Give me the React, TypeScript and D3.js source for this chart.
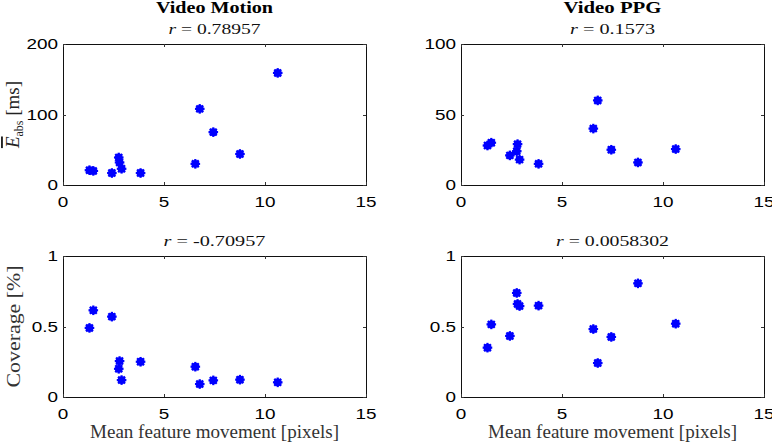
import React from "react";
import * as d3 from "d3";

const movement = [1.31, 1.5, 2.42, 2.76, 2.8, 2.9, 3.84, 6.55, 6.77, 7.44, 8.76, 10.63];
const errMotion = [21, 20, 17, 39, 32, 23, 17, 30, 108, 75, 44, 159];
const errPPG = [28, 30, 21, 24, 29, 18, 15, 40, 60, 25, 16, 25.5];
const covMotion = [0.49, 0.615, 0.57, 0.2, 0.255, 0.12, 0.25, 0.215, 0.092, 0.118, 0.123, 0.104];
const covPPG = [0.35, 0.515, 0.433, 0.738, 0.66, 0.645, 0.648, 0.482, 0.241, 0.426, 0.806, 0.52];

const xTicks = [0, 5, 10, 15];
const yTicksErrMotion = [0, 100, 200];
const yTicksErrPPG = [0, 50, 100];
const yTicksCov = [0, 0.5, 1];
const columnTitles = ["Video Motion", "Video PPG"];
const rLabels = ["0.78957", "0.1573", "-0.70957", "0.0058302"];
const xLabel = "Mean feature movement [pixels]";

const BLUE = "#0000ff";

type Panel = {
  left: number;
  top: number;
  ys: number[];
  yMax: number;
  yTicks: number[];
  r: string;
  rWidth: number;
};

const W = 303;
const H = 141;

const panels: Panel[] = [
  { left: 63, top: 44, ys: errMotion, yMax: 200, yTicks: yTicksErrMotion, r: rLabels[0], rWidth: 92 },
  { left: 461, top: 44, ys: errPPG, yMax: 100, yTicks: yTicksErrPPG, r: rLabels[1], rWidth: 85 },
  { left: 63, top: 256, ys: covMotion, yMax: 1, yTicks: yTicksCov, r: rLabels[2], rWidth: 102 },
  { left: 461, top: 256, ys: covPPG, yMax: 1, yTicks: yTicksCov, r: rLabels[3], rWidth: 113 },
];

function Marker({ cx, cy }: { cx: number; cy: number }) {
  const a = 4.8;
  const d = a * 0.72;
  return (
    <g>
      <circle cx={cx} cy={cy} r={3.9} fill={BLUE} />
      <g stroke={BLUE} strokeWidth={2.2} strokeLinecap="butt">
        <line x1={cx - a} y1={cy} x2={cx + a} y2={cy} />
        <line x1={cx} y1={cy - a} x2={cx} y2={cy + a} />
        <line x1={cx - d} y1={cy - d} x2={cx + d} y2={cy + d} />
        <line x1={cx - d} y1={cy + d} x2={cx + d} y2={cy - d} />
      </g>
    </g>
  );
}

function PanelView({ p }: { p: Panel }) {
  const x = d3.scaleLinear().domain([0, 15]).range([p.left, p.left + W]);
  const y = d3.scaleLinear().domain([0, p.yMax]).range([p.top + H, p.top]);
  const cx = p.left + W / 2;
  return (
    <g>
      <rect x={p.left + 0.5} y={p.top + 0.5} width={W} height={H} fill="white" stroke="#111" strokeWidth={1} />
      {xTicks.map((t) => (
        <g key={"xt" + t}>
          <line x1={Math.round(x(t)) + 0.5} x2={Math.round(x(t)) + 0.5} y1={p.top + H} y2={p.top + H - 3} stroke="#333" />
          <line x1={Math.round(x(t)) + 0.5} x2={Math.round(x(t)) + 0.5} y1={p.top} y2={p.top + 3} stroke="#333" />
          <text
            transform={`translate(${x(t)},${p.top + H + 22}) scale(1.35,1)`}
            textAnchor="middle"
            fontFamily="Liberation Sans, Arial, sans-serif"
            fontSize={14}
            fill="#000"
          >
            {t}
          </text>
        </g>
      ))}
      {p.yTicks.map((t) => (
        <g key={"yt" + t}>
          <line x1={p.left} x2={p.left + 3} y1={Math.round(y(t)) + 0.5} y2={Math.round(y(t)) + 0.5} stroke="#333" />
          <line x1={p.left + W} x2={p.left + W - 3} y1={Math.round(y(t)) + 0.5} y2={Math.round(y(t)) + 0.5} stroke="#333" />
          <text
            transform={`translate(${p.left - 5},${y(t) + 5}) scale(1.35,1)`}
            textAnchor="end"
            fontFamily="Liberation Sans, Arial, sans-serif"
            fontSize={14}
            fill="#000"
          >
            {String(t)}
          </text>
        </g>
      ))}
      {movement.map((m, i) => (
        <Marker key={i} cx={x(m)} cy={y(p.ys[i])} />
      ))}
      <text
        x={cx}
        y={p.top - 10}
        textAnchor="middle"
        fontFamily="Liberation Serif, Times New Roman, serif"
        fontSize={15}
        fill="#111"
        textLength={p.rWidth}
        lengthAdjust="spacingAndGlyphs"
      >
        <tspan fontStyle="italic">r</tspan> = {p.r}
      </text>
    </g>
  );
}

export default function App() {
  return (
    <svg
      width={772}
      height={445}
      style={{ position: "absolute", left: 0, top: 0, background: "white" }}
    >
      <rect x={0} y={0} width={772} height={445} fill="white" />
      {panels.map((p, i) => (
        <PanelView key={i} p={p} />
      ))}
      {columnTitles.map((t, i) => (
        <text
          key={t}
          x={panels[i].left + W / 2}
          y={13}
          textAnchor="middle"
          fontFamily="Liberation Serif, Times New Roman, serif"
          fontWeight="bold"
          fontSize={17}
          fill="#000"
          textLength={i === 0 ? 117 : 98}
          lengthAdjust="spacingAndGlyphs"
        >
          {t}
        </text>
      ))}
      {[0, 1].map((i) => (
        <text
          key={"xl" + i}
          x={panels[i + 2].left + W / 2}
          y={438}
          textAnchor="middle"
          fontFamily="Liberation Serif, Times New Roman, serif"
          fontSize={19}
          fill="#333"
          textLength={249}
          lengthAdjust="spacingAndGlyphs"
        >
          {xLabel}
        </text>
      ))}
      <text
        transform={`translate(20,${256 + H / 2}) rotate(-90)`}
        textAnchor="middle"
        fontFamily="Liberation Serif, Times New Roman, serif"
        fontSize={19}
        fill="#333"
        textLength={122}
        lengthAdjust="spacingAndGlyphs"
      >
        Coverage [%]
      </text>
      <text
        transform={`translate(19,${44 + H / 2}) rotate(-90)`}
        textAnchor="middle"
        fontFamily="Liberation Serif, Times New Roman, serif"
        fontSize={19}
        fill="#222"
      >
        <tspan fontStyle="italic" textDecoration="overline">E</tspan>
        <tspan fontSize={12} dy={4}>abs</tspan>
        <tspan dy={-4}> [ms]</tspan>
      </text>
    </svg>
  );
}
